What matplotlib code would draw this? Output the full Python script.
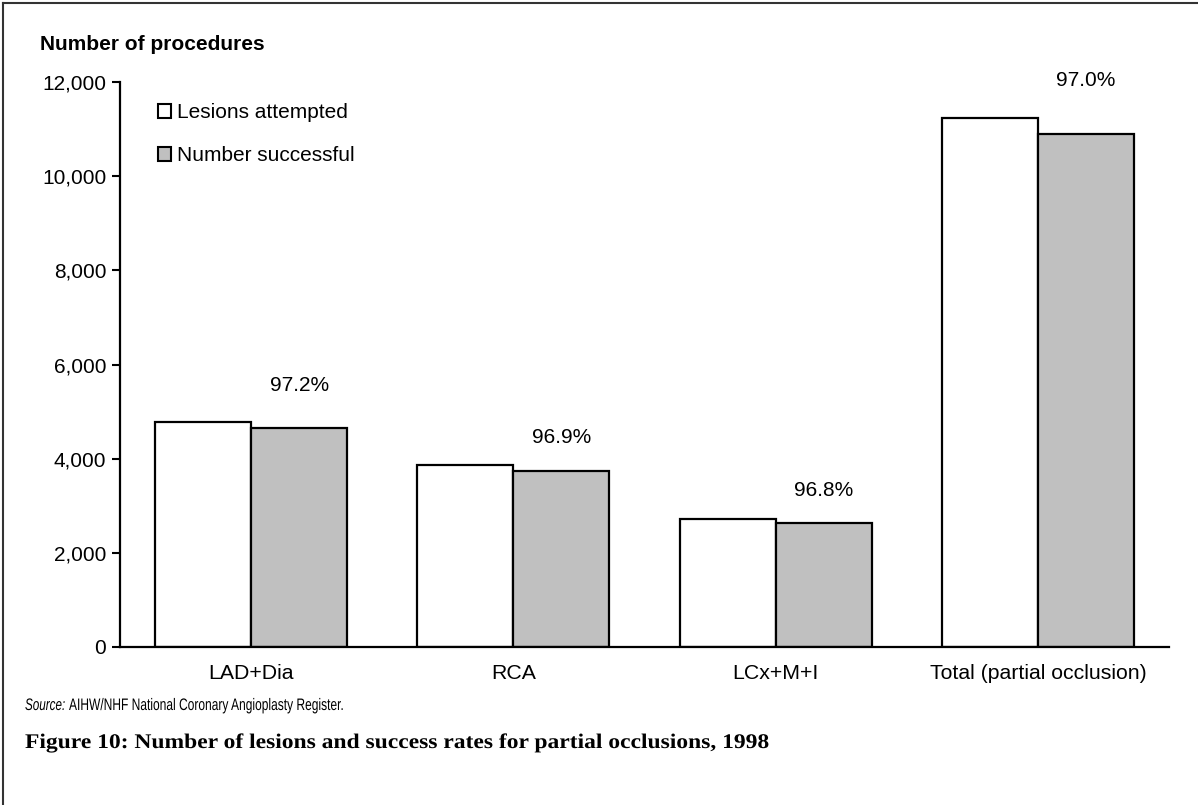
import matplotlib.pyplot as plt
from matplotlib.patches import Patch, PathPatch
from matplotlib.lines import Line2D
from matplotlib.textpath import TextPath
from matplotlib.font_manager import FontProperties
from matplotlib.transforms import Affine2D
import numpy as np

# Lesions by artery, 1998
categories = ["LAD+Dia", "RCA", "LCx+M+I", "Total (partial occlusion)"]
attempted = [4780, 3865, 2710, 11245]
successful = [4645, 3745, 2625, 10905]
success_rate = ["97.2%", "96.9%", "96.8%", "97.0%"]
yticks = [0, 2000, 4000, 6000, 8000, 10000, 12000]

# offset of the rate label above the grey bar (points)
label_offsets = [31, 24, 24, 38]

plt.rcParams["font.family"] = ["Liberation Sans", "DejaVu Sans"]

W, H = 1198, 805
fig = plt.figure(figsize=(W / 100, H / 100), dpi=100)
ax = fig.add_axes([0.1002, 0.1963, 0.8756, 0.7018])

x = np.arange(len(categories))
w = 0.366
ax.bar(x - w / 2, attempted, w, color="white", edgecolor="black", linewidth=1.6)
ax.bar(x + w / 2, successful, w, color="#c0c0c0", edgecolor="black", linewidth=1.6)

for i, (val, txt) in enumerate(zip(successful, success_rate)):
    ax.annotate(txt, (x[i] + w / 2, val), xytext=(0, label_offsets[i]),
                textcoords="offset points", ha="center", va="center", fontsize=15)

ax.set_xlim(-0.5, 3.5)
ax.set_ylim(0, 12000)
ax.set_yticks(yticks)
ax.set_yticklabels([f"{v:,}" for v in yticks], fontsize=15)
ax.set_xticks(x)
ax.set_xticklabels(categories, fontsize=15.3)
ax.tick_params(axis="x", length=0, pad=12)
ax.tick_params(axis="y", length=6, width=1.5, pad=4)
for s in ["top", "right"]:
    ax.spines[s].set_visible(False)
for s in ["left", "bottom"]:
    ax.spines[s].set_linewidth(1.6)

handles = [Patch(facecolor="white", edgecolor="black", linewidth=1.5),
           Patch(facecolor="#c0c0c0", edgecolor="black", linewidth=1.5)]
ax.legend(handles, ["Lesions attempted", "Number successful"], loc="upper left",
          bbox_to_anchor=(0.036, 0.962), frameon=False, fontsize=15,
          handlelength=0.65, handleheight=0.65, handletextpad=0.25,
          labelspacing=1.15, borderpad=0, borderaxespad=0)

fig.text(40 / W, 1 - 45 / H, "Number of procedures", fontsize=15,
         fontweight="bold", va="center", ha="left")


def stretched_text(x_px, base_px, s, size, sx, **font):
    # text drawn as a path so it can be narrowed or widened
    tp = TextPath((0, 0), s, prop=FontProperties(size=size, **font))
    k = fig.dpi / 72
    tr = Affine2D().scale(sx * k, k).translate(x_px, H - base_px)
    fig.add_artist(PathPatch(tp, transform=tr, facecolor="black", edgecolor="none"))


stretched_text(25, 710, "Source:", 12, 0.70, family="Liberation Sans", style="italic")
stretched_text(69, 710, "AIHW/NHF National Coronary Angioplasty Register.", 12, 0.72,
               family="Liberation Sans")
stretched_text(25, 748,
               "Figure 10: Number of lesions and success rates for partial occlusions, 1998",
               15, 1.13, family="Liberation Serif", weight="bold")

# frame edges at top and left
fig.add_artist(Line2D([3 / W, 1], [1 - 3 / H, 1 - 3 / H], color="#333333", lw=1.5))
fig.add_artist(Line2D([3 / W, 3 / W], [0, 1 - 3 / H], color="#333333", lw=1.5))

fig.savefig("out.png", dpi=100)
